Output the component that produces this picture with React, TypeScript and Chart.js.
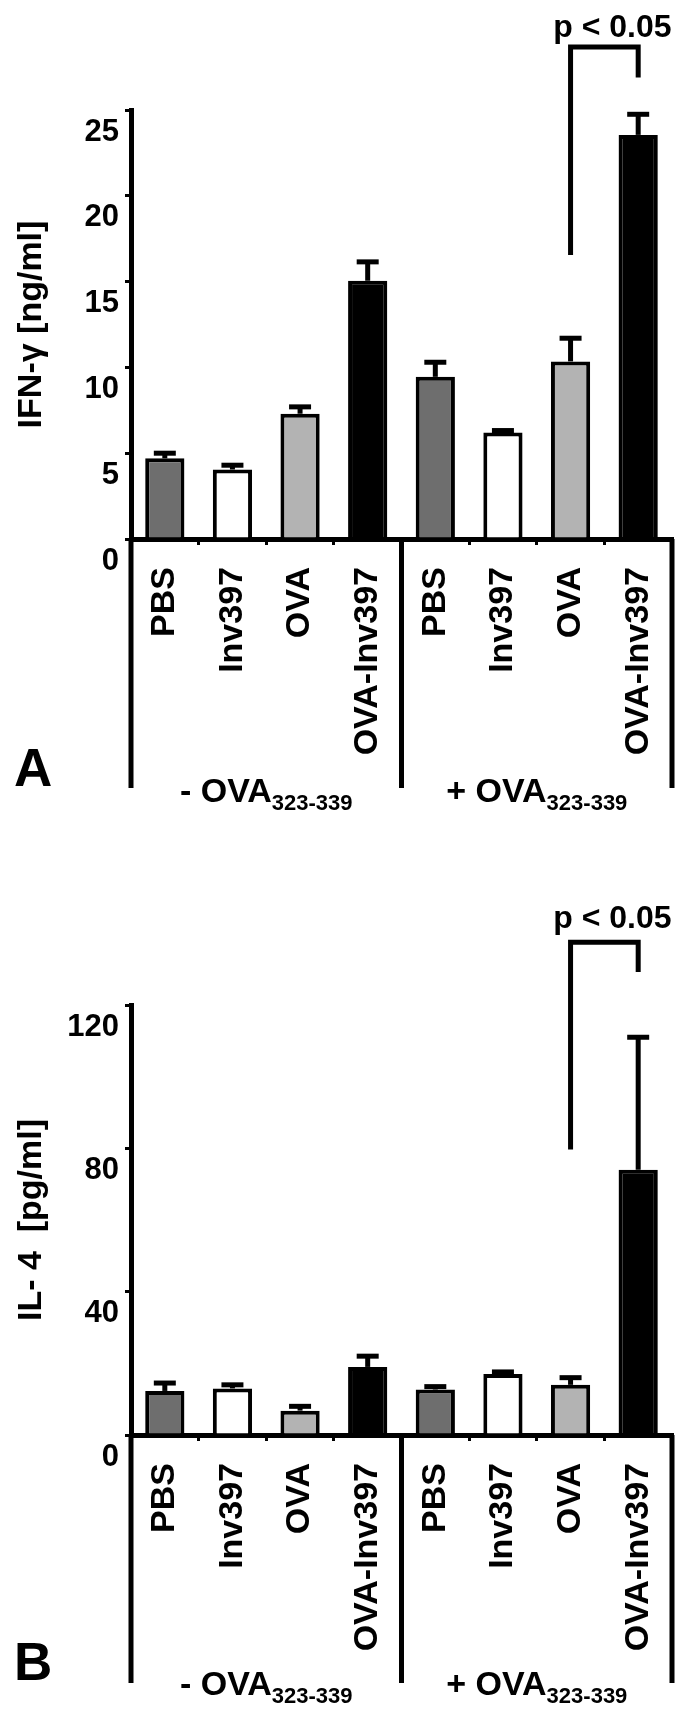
import React, { useEffect, useRef } from 'react';
import { Chart, registerables } from 'chart.js';

Chart.register(...registerables);

// ---------- data ----------
const categories = ['PBS', 'Inv397', 'OVA', 'OVA-Inv397', 'PBS', 'Inv397', 'OVA', 'OVA-Inv397'];
const barColors = ['#6e6e6e', '#ffffff', '#b3b3b3', '#000000', '#6e6e6e', '#ffffff', '#b3b3b3', '#000000'];

const ifnValues = [4.7, 4.05, 7.3, 15.05, 9.45, 6.2, 10.35, 23.55];
const ifnErrors = [0.3, 0.25, 0.4, 1.1, 0.85, 0.12, 1.35, 1.2];
const ifnTicks = [0, 5, 10, 15, 20, 25];

const il4Values = [12.3, 13.0, 6.8, 19.0, 12.7, 17.0, 14.0, 74.0];
const il4Errors = [2.2, 1.0, 1.2, 3.0, 0.8, 0.6, 2.0, 37.0];
const il4Ticks = [0, 40, 80, 120];

const groupLabels = ['- OVA', '+ OVA'];
const groupSub = '323-339';
const sigText = 'p < 0.05';
const sigPair = [6, 7];
// bracket levels in data units: [horizontal, left leg bottom, right leg bottom, text baseline]
const ifnBracket = [28.67, 16.55, 26.9, 29.25];
const il4Bracket = [137.5, 79.7, 129.2, 141.4];

const FONT = "'Liberation Sans', Arial, Helvetica, sans-serif";
const W = 700;
const H = 859;

type PanelCfg = {
  values: number[];
  errors: number[];
  ticks: number[];
  title: string;
  letter: string;
  bracket: number[];
  areaTop: number;
  areaBottom: number;
  lineBottom: number;
  groupBaseline: number;
  letterBaseline: number;
};

const panelA: PanelCfg = {
  values: ifnValues,
  errors: ifnErrors,
  ticks: ifnTicks,
  title: 'IFN-\u03b3 [ng/ml]',
  letter: 'A',
  bracket: ifnBracket,
  areaTop: 110,
  areaBottom: 539,
  lineBottom: 788,
  groupBaseline: 802,
  letterBaseline: 786,
};

const panelB: PanelCfg = {
  values: il4Values,
  errors: il4Errors,
  ticks: il4Ticks,
  title: 'IL- 4  [pg/ml]',
  letter: 'B',
  bracket: il4Bracket,
  areaTop: 146,
  areaBottom: 576,
  lineBottom: 824,
  groupBaseline: 836,
  letterBaseline: 821,
};

const extrasPlugin = {
  id: 'extras',
  afterDatasetsDraw(chart: any, _args: any, opts: any) {
    const p: PanelCfg = opts.panel;
    const { ctx, chartArea } = chart;
    const x = chart.scales.x;
    const y = chart.scales.y;
    ctx.save();
    ctx.strokeStyle = '#000';
    ctx.fillStyle = '#000';
    ctx.lineCap = 'butt';

    // error bars (upper only)
    p.values.forEach((v, i) => {
      const cx = x.getPixelForValue(i);
      const y0 = y.getPixelForValue(v);
      const y1 = y.getPixelForValue(v + p.errors[i]);
      ctx.lineWidth = 5;
      ctx.beginPath();
      ctx.moveTo(cx, y0);
      ctx.lineTo(cx, y1);
      ctx.stroke();
      ctx.beginPath();
      ctx.moveTo(cx - 11, y1);
      ctx.lineTo(cx + 11, y1);
      ctx.stroke();
    });

    // long vertical lines below the axis
    const n = p.values.length;
    const mid = (x.getPixelForValue(n / 2 - 1) + x.getPixelForValue(n / 2)) / 2;
    ctx.lineWidth = 5;
    [chartArea.left, mid, chartArea.right].forEach((lx) => {
      ctx.beginPath();
      ctx.moveTo(lx, chartArea.bottom);
      ctx.lineTo(lx, p.lineBottom);
      ctx.stroke();
    });

    // group labels with subscript
    const groupCenters = [(chartArea.left + mid) / 2, (mid + chartArea.right) / 2];
    groupLabels.forEach((g, gi) => {
      ctx.font = `bold 34px ${FONT}`;
      const wMain = ctx.measureText(g).width;
      ctx.font = `bold 22px ${FONT}`;
      const wSub = ctx.measureText(groupSub).width;
      const startX = groupCenters[gi] - (wMain + wSub) / 2;
      ctx.textAlign = 'left';
      ctx.textBaseline = 'alphabetic';
      ctx.font = `bold 34px ${FONT}`;
      ctx.fillText(g, startX, p.groupBaseline);
      ctx.font = `bold 22px ${FONT}`;
      ctx.fillText(groupSub, startX + wMain, p.groupBaseline + 8);
    });

    // y-axis title
    ctx.save();
    ctx.translate(32, (chartArea.top + chartArea.bottom) / 2);
    ctx.rotate(-Math.PI / 2);
    ctx.font = `bold 34px ${FONT}`;
    ctx.textAlign = 'center';
    ctx.textBaseline = 'middle';
    ctx.fillText(p.title, 0, 0);
    ctx.restore();

    // panel letter
    ctx.font = `bold 53px ${FONT}`;
    ctx.textAlign = 'left';
    ctx.textBaseline = 'alphabetic';
    ctx.fillText(p.letter, 14, p.letterBaseline);

    // significance bracket
    const xl = x.getPixelForValue(sigPair[0]);
    const xr = x.getPixelForValue(sigPair[1]);
    const [bTop, lBot, rBot, tY] = p.bracket;
    ctx.lineWidth = 5;
    ctx.lineJoin = 'miter';
    ctx.beginPath();
    ctx.moveTo(xl, y.getPixelForValue(lBot));
    ctx.lineTo(xl, y.getPixelForValue(bTop));
    ctx.lineTo(xr, y.getPixelForValue(bTop));
    ctx.lineTo(xr, y.getPixelForValue(rBot));
    ctx.stroke();
    ctx.font = `bold 32px ${FONT}`;
    ctx.textAlign = 'center';
    ctx.fillText(sigText, (xl + xr) / 2 + 8, y.getPixelForValue(tY));

    ctx.restore();
  },
};

function buildConfig(p: PanelCfg): any {
  const yMax = p.ticks[p.ticks.length - 1];
  const step = p.ticks[1] - p.ticks[0];
  return {
    type: 'bar',
    data: {
      labels: categories,
      datasets: [
        {
          data: p.values,
          backgroundColor: barColors,
          borderColor: '#000',
          borderWidth: 4,
          barPercentage: 0.58,
          categoryPercentage: 1,
        },
      ],
    },
    plugins: [extrasPlugin],
    options: {
      responsive: false,
      animation: false,
      layout: { padding: { top: p.areaTop, right: 28, left: 0, bottom: 0 } },
      plugins: {
        legend: { display: false },
        tooltip: { enabled: false },
        extras: { panel: p },
      },
      scales: {
        x: {
          type: 'category',
          offset: true,
          grid: {
            offset: true,
            drawOnChartArea: false,
            drawTicks: true,
            tickLength: 6,
            lineWidth: 3,
            color: '#000',
          },
          border: { display: true, width: 5, color: '#000' },
          ticks: {
            autoSkip: false,
            minRotation: 90,
            maxRotation: 90,
            padding: 22,
            color: '#000',
            font: { family: FONT, size: 34, weight: 'bold' },
          },
          afterFit: (s: any) => {
            s.height = H - p.areaBottom;
            s.paddingLeft = 0;
            s.paddingRight = 0;
          },
        },
        y: {
          min: 0,
          max: yMax,
          ticks: {
            stepSize: step,
            labelOffset: 22,
            padding: 6,
            color: '#000',
            font: { family: FONT, size: 31, weight: 'bold' },
          },
          grid: {
            drawOnChartArea: false,
            drawTicks: true,
            tickLength: 6,
            lineWidth: 3,
            color: '#000',
          },
          border: { display: true, width: 5, color: '#000' },
          afterFit: (s: any) => {
            s.width = 131;
            s.paddingTop = 0;
            s.paddingBottom = 0;
          },
        },
      },
    },
  };
}

function Panel({ cfg }: { cfg: PanelCfg }) {
  const ref = useRef<HTMLCanvasElement | null>(null);
  useEffect(() => {
    if (!ref.current) return;
    const chart = new Chart(ref.current, buildConfig(cfg));
    return () => chart.destroy();
  }, [cfg]);
  return (
    <canvas
      ref={ref}
      width={W}
      height={H}
      style={{ display: 'block', width: W, height: H }}
    />
  );
}

export default function App() {
  return (
    <div
      style={{
        position: 'absolute',
        left: 0,
        top: 0,
        width: W,
        height: H * 2,
        background: '#ffffff',
      }}
    >
      <Panel cfg={panelA} />
      <Panel cfg={panelB} />
    </div>
  );
}
